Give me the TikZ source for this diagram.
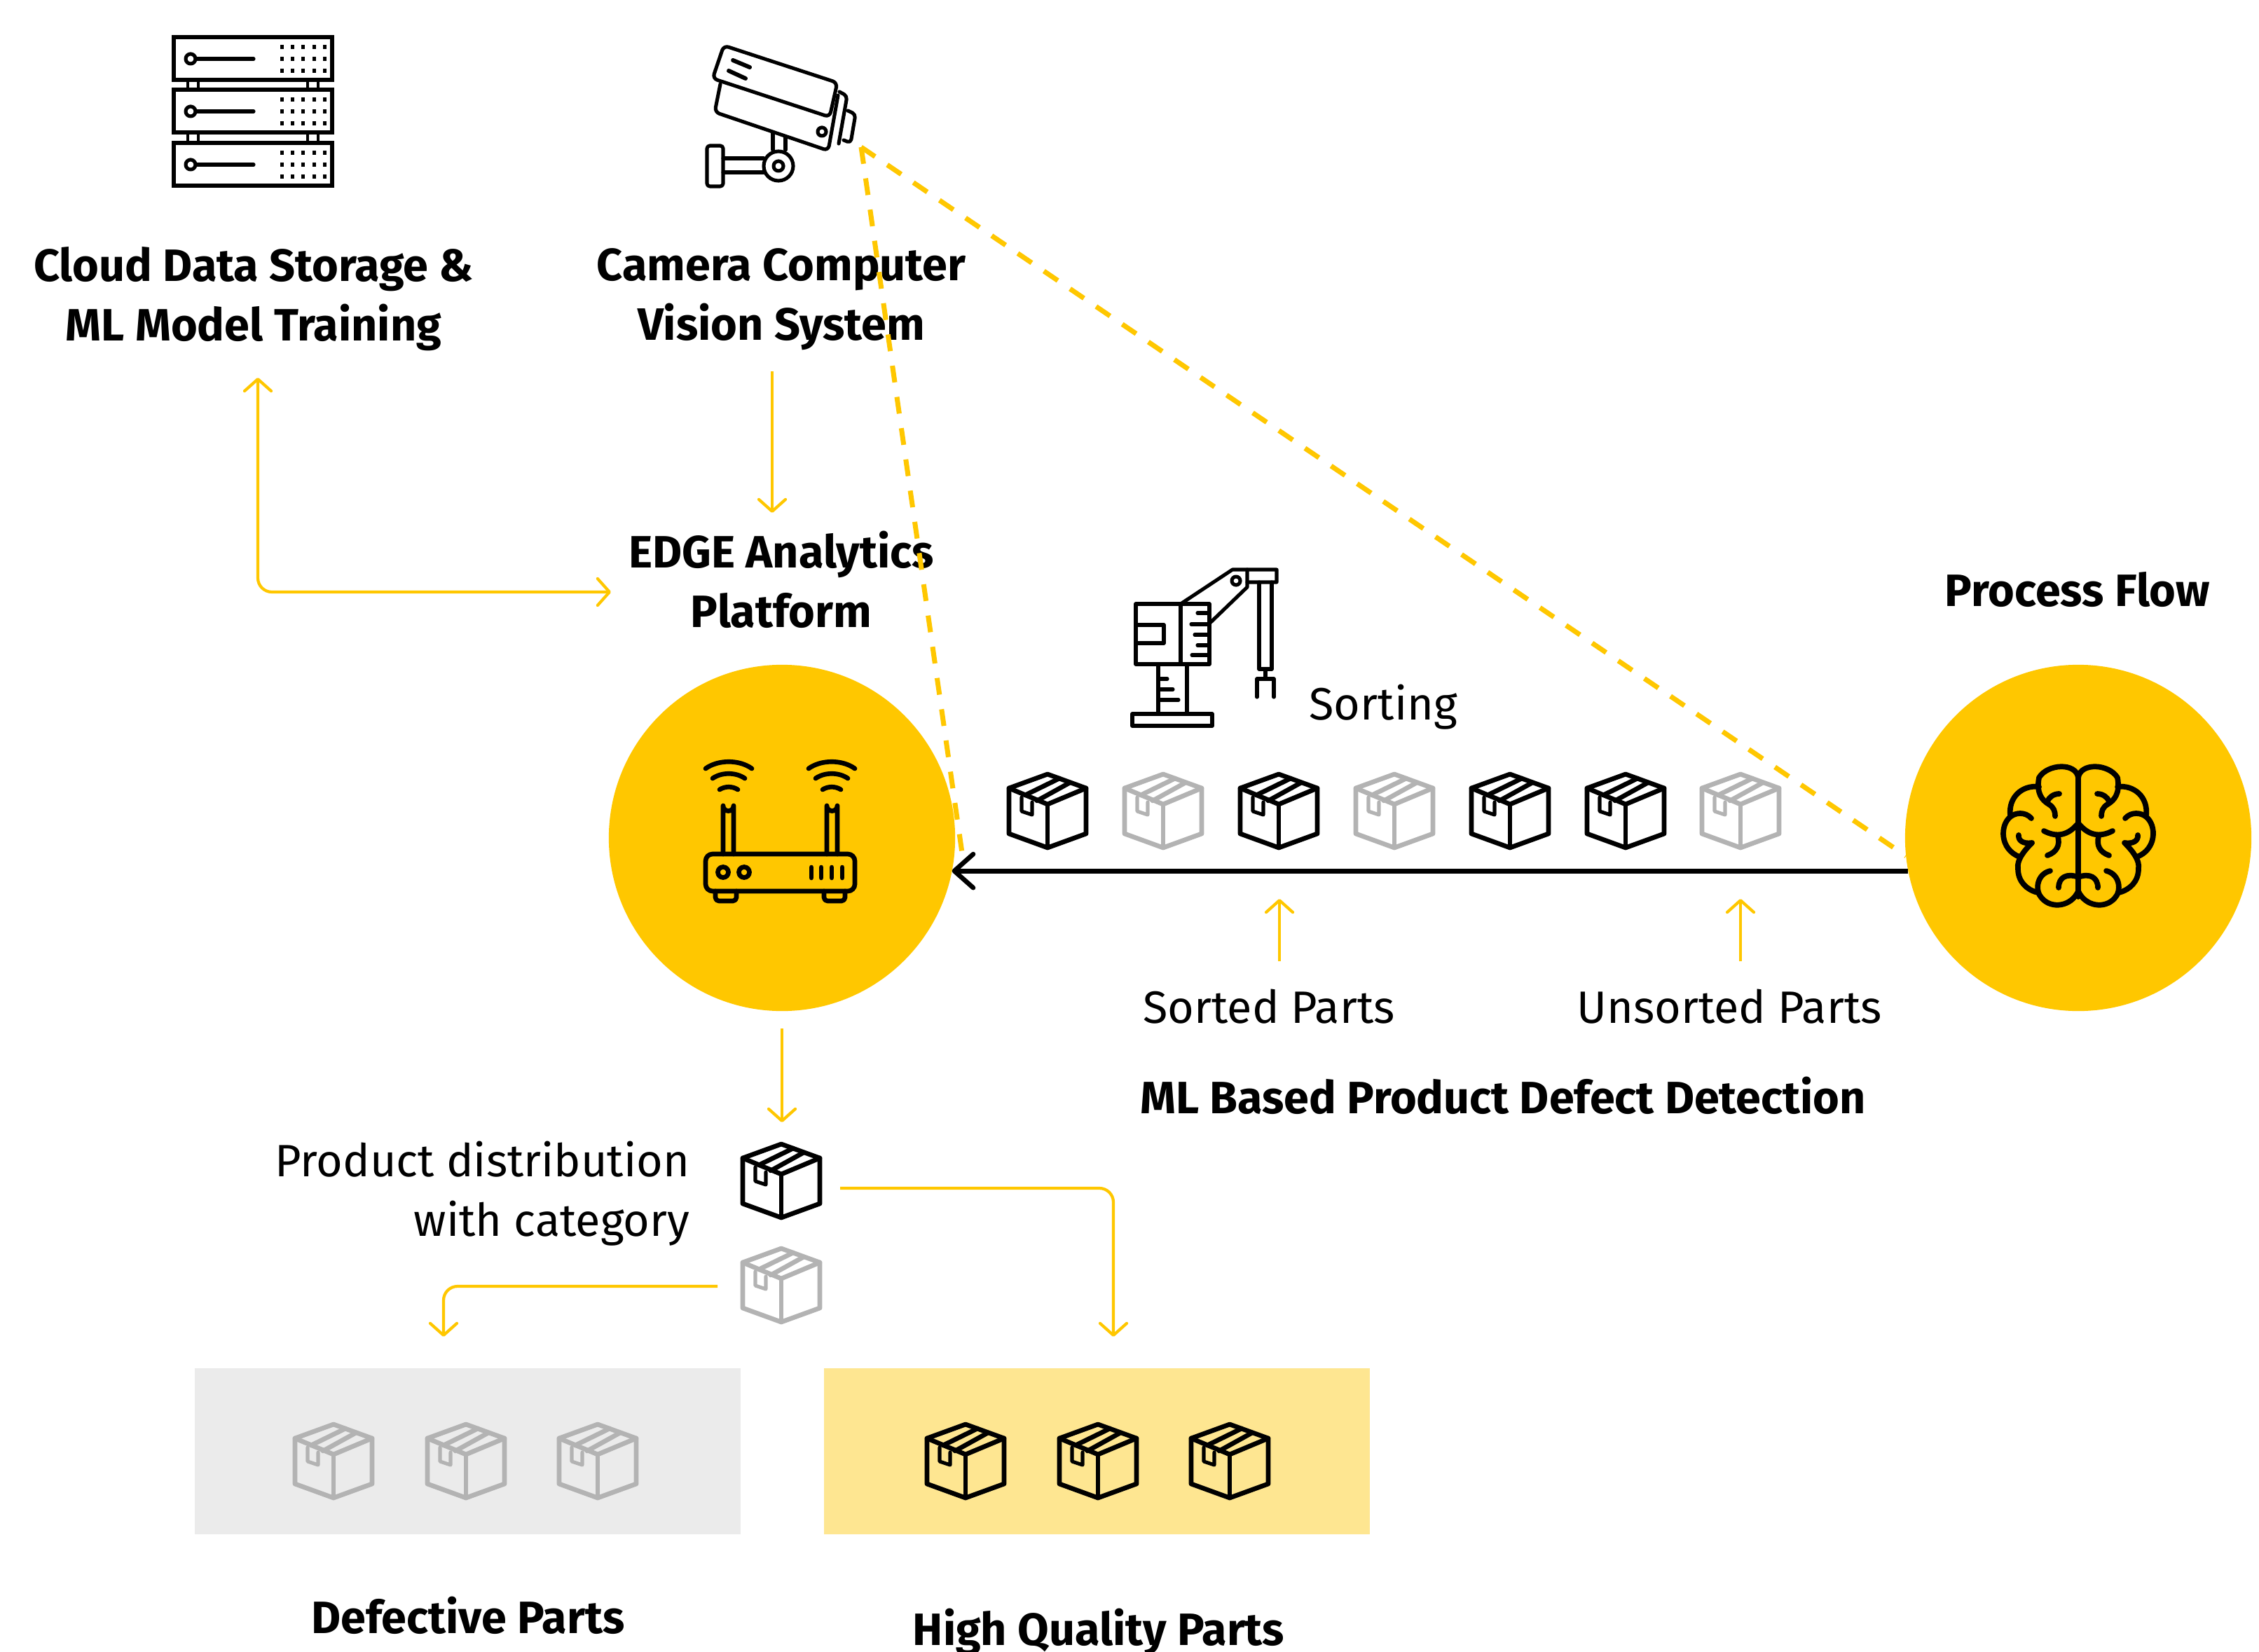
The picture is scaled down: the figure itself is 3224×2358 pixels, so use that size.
\documentclass[tikz,border=0pt]{standalone}
\usepackage{fontspec}
\setmainfont{Fira Sans}
\usetikzlibrary{arrows.meta, positioning}
\definecolor{hubyellow}{HTML}{FFC700}
\definecolor{partgray}{HTML}{B3B3B3}
\definecolor{binwhite}{HTML}{EBEBEB}
\definecolor{binyellow}{HTML}{FEE691}
\tikzset{
  heading/.style={font=\fontsize{18.4}{24.1}\selectfont\bfseries, align=center, inner sep=0pt},
  caption/.style={font=\fontsize{18.4}{24.1}\selectfont, inner sep=0pt},
  flowtip/.tip={Straight Barb[length=0.17cm, width=0.38cm, round]},
  flowarrow/.style={draw=hubyellow, line width=1.2pt, rounded corners=0.2cm, -flowtip},
  sightline/.style={draw=hubyellow, line width=2pt, dash pattern=on 0.24cm off 0.21cm},
  hub/.style={circle, fill=hubyellow, minimum size=4.94cm, inner sep=0pt, outer sep=0pt},
  icon/.style={line width=1.45pt, line cap=round, line join=round},
  thickicon/.style={line width=1.9pt, line cap=round, line join=round},
  brainline/.style={line width=2.2pt, line cap=round, line join=round},
  pics/partbox/.style={code={
    \draw[pic actions, thickicon] (0,-52) -- (55,-32) -- (55,33) -- (0,53) -- (-55,33) -- (-55,-32) -- cycle;
    \draw[pic actions, thickicon] (-55,-32) -- (0,-9) -- (55,-32);
    \draw[pic actions, thickicon] (0,-9) -- (0,53);
    \draw[pic actions, thickicon] (-32,-22) -- (17,-46);
    \draw[pic actions, thickicon] (-15,-14) -- (32,-40);
    \draw[pic actions, icon] (-37,-19) -- (-37,1) -- (-22,6) -- (-22,-12);
  }},
  pics/serverunit/.style={code={
    \draw[icon, line cap=butt, line join=miter] (248,0) rectangle (474,61);
    \draw[icon] (272,31) circle (7);
    \draw[icon] (279,31) -- (362,31);
    \foreach \dotx in {402,417,432,448,463}
      \foreach \doty in {14,31,48}
        \fill (\dotx-2.5,\doty-3) rectangle (\dotx+2.5,\doty+3);
  }},
  pics/brainhalf/.style={code={
    \draw[brainline] (0,50) .. controls (-3,28) and (-44,30) .. (-56,50) .. controls (-60,72) and (-52,82) .. (-42,88) .. controls (-35,92) and (-33,98) .. (-33,105);
    \draw[brainline] (-27,73) .. controls (-35,73) and (-42,78) .. (-44,84);
    \draw[brainline] (-56,63) .. controls (-80,60) and (-100,78) .. (-97,104);
    \draw[brainline] (-67,108) .. controls (-76,98) and (-90,100) .. (-97,106) .. controls (-112,118) and (-112,152) .. (-84,163);
    \draw[brainline] (-85,132) .. controls (-86,140) and (-78,145) .. (-66,143) .. controls (-78,155) and (-88,168) .. (-86,180) .. controls (-86,198) and (-74,210) .. (-58,214);
    \draw[brainline] (-40,183) .. controls (-60,188) and (-62,212) .. (-52,222) .. controls (-38,238) and (-10,234) .. (0,212);
    \draw[brainline] (-28,207) .. controls (-28,192) and (-16,186) .. (0,192);
    \draw[brainline] (-49,126) .. controls (-30,136) and (-14,132) .. (0,115);
    \draw[brainline] (-29,134) .. controls (-26,146) and (-30,156) .. (-44,161);
  }},
}

\begin{document}
\begin{tikzpicture}[x=0.01cm, y=-0.01cm]
  \useasboundingbox (0,0) rectangle (3224,2358);

  % Labels
  \node[heading] (cloudLabel) at (362,427) {Cloud Data Storage \&\\ML Model Training};
  \node[heading] (cameraLabel) at (1115,427) {Camera Computer\\Vision System};
  \node[heading] (edgeLabel) at (1115,827) {EDGE Analytics\\Platform};
  \node[heading] (flowLabel) at (2965,841) {Process Flow};
  \node[heading] (detectLabel) at (2145,1564) {ML Based Product Defect Detection};
  \node[heading] (defectLabel) at (668,2306) {Defective Parts};
  \node[heading] (qualityLabel) at (1568,2329) {High Quality Parts};
  \node[caption, anchor=west] (sortLabel) at (1868,1009) {Sorting};
  \node[caption] (sortedLabel) at (1811,1437) {Sorted Parts};
  \node[caption] (unsortedLabel) at (2468,1437) {Unsorted Parts};
  \node[caption, align=right, anchor=east] (distLabel) at (985,1704) {Product distribution\\with category};

  % Hubs
  \node[hub] (edgeHub) at (1116,1196) {};
  \node[hub] (flowHub) at (2966,1196) {};

  % Bins
  \fill[binwhite] (278,1953) rectangle (1057,2190);
  \fill[binyellow] (1176,1953) rectangle (1955,2190);

  % Connector ends
  \coordinate (lensPoint) at (1229,210);
  \coordinate (edgeSight) at (1374,1224);
  \coordinate (cameraOut) at (1102,530);
  \coordinate (edgeIn) at (1102,732);
  \coordinate (cloudOut) at (368,539);
  \coordinate (edgeSide) at (872,845);
  \coordinate (edgeOut) at (1116,1468);
  \coordinate (parkIn) at (1116,1602);
  \coordinate (sortedTail) at (1826,1372);
  \coordinate (sortedTip) at (1826,1283);
  \coordinate (unsortedTail) at (2484,1372);
  \coordinate (unsortedTip) at (2484,1283);
  \coordinate (goodOut) at (1199,1696);
  \coordinate (goodIn) at (1589,1908);
  \coordinate (badOut) at (1024,1836);
  \coordinate (badIn) at (633,1908);

  % Sight lines
  \draw[sightline] (lensPoint) -- (flowHub.186.2);
  \draw[sightline] (lensPoint) -- (edgeSight);

  % Flow arrows
  \draw[flowarrow] (cameraOut) -- (edgeIn);
  \draw[flowarrow, flowtip-flowtip] (cloudOut) |- (edgeSide);
  \draw[flowarrow] (edgeOut) -- (parkIn);
  \draw[flowarrow] (sortedTail) -- (sortedTip);
  \draw[flowarrow] (unsortedTail) -- (unsortedTip);
  \draw[flowarrow] (goodOut) -| (goodIn);
  \draw[flowarrow] (badOut) -| (badIn);
  \draw[line width=1.9pt, -{Straight Barb[length=0.27cm, width=0.48cm, round]}] (flowHub.191.7) -- (edgeHub.-11.7);

  % Parts on the belt
  \pic (belta) at (1495,1157) {partbox};
  \pic[draw=partgray] (beltb) at (1660,1157) {partbox};
  \pic (beltc) at (1825,1157) {partbox};
  \pic[draw=partgray] (beltd) at (1990,1157) {partbox};
  \pic (belte) at (2155,1157) {partbox};
  \pic (beltf) at (2320,1157) {partbox};
  \pic[draw=partgray] (beltg) at (2484,1157) {partbox};

  % Parts being distributed
  \pic (splita) at (1115,1685) {partbox};
  \pic[draw=partgray] (splitb) at (1115,1834) {partbox};

  % Parts in the bins
  \pic[draw=partgray] (bada) at (476,2085) {partbox};
  \pic[draw=partgray] (badb) at (665,2085) {partbox};
  \pic[draw=partgray] (badc) at (853,2085) {partbox};
  \pic (gooda) at (1378,2085) {partbox};
  \pic (goodb) at (1567,2085) {partbox};
  \pic (goodc) at (1755,2085) {partbox};

  % Server rack
  \pic (rackc) at (0,53) {serverunit};
  \pic (rackb) at (0,128) {serverunit};
  \pic (racka) at (0,204) {serverunit};
  \draw[icon, line width=1pt] (268,114) -- (268,128) (283,114) -- (283,128) (439,114) -- (439,128) (454,114) -- (454,128);
  \draw[icon, line width=1pt] (268,189) -- (268,204) (283,189) -- (283,204) (439,189) -- (439,204) (454,189) -- (454,204);

  % Camera
  \draw[icon, rounded corners=0.07cm] (1033,65) -- (1195,118) -- (1184,167) -- (1017,112) -- cycle;
  \draw[icon, rounded corners=0.07cm] (1028,120) -- (1020,160) -- (1182,215) -- (1196,136);
  \draw[icon, rounded corners=0.05cm] (1198,131) -- (1209,137) -- (1197,205);
  \draw[icon, rounded corners=0.05cm] (1210,158) -- (1221,163) -- (1214,204) -- (1204,200);
  \draw[icon, line width=1.7pt] (1046,86) -- (1070,96) (1040,101) -- (1064,112);
  \draw[icon] (1173,188) circle (6);
  \draw[icon] (1103,190) -- (1103,214) (1121,196) -- (1121,214);
  \draw[icon, fill=white] (1111,237) circle (21);
  \draw[icon] (1111,237) circle (7);
  \draw[icon, rounded corners=0.04cm] (1009,208) rectangle (1032,266);
  \draw[icon] (1032,226) -- (1090,226) (1032,246) -- (1090,246);

  % Router
  \draw[thickicon, rounded corners=0.1cm] (1007,1219) rectangle (1220,1272);
  \draw[thickicon, rounded corners=0.05cm] (1021,1272) -- (1021,1286) -- (1051,1286) -- (1051,1272);
  \draw[thickicon, rounded corners=0.05cm] (1176,1272) -- (1176,1286) -- (1206,1286) -- (1206,1272);
  \draw[thickicon] (1032,1245) circle (7.5);
  \draw[thickicon] (1062,1245) circle (7.5);
  \draw[thickicon] (1158,1238) -- (1158,1253) (1172,1238) -- (1172,1253) (1187,1238) -- (1187,1253) (1202,1238) -- (1202,1253);
  \draw[thickicon] (1032,1219) -- (1032,1150) arc (180:0:7.5) -- (1047,1219);
  \draw[thickicon] (1180,1219) -- (1180,1150) arc (180:0:7.5) -- (1195,1219);
  \draw[thickicon] (1007,1097) .. controls (1025,1084) and (1055,1084) .. (1073,1097);
  \draw[thickicon] (1017,1111) .. controls (1030,1102) and (1050,1102) .. (1063,1111);
  \draw[thickicon] (1027,1127) .. controls (1035,1122) and (1045,1122) .. (1053,1127);
  \draw[thickicon] (1154,1097) .. controls (1172,1084) and (1202,1084) .. (1220,1097);
  \draw[thickicon] (1164,1111) .. controls (1177,1102) and (1197,1102) .. (1210,1111);
  \draw[thickicon] (1174,1127) .. controls (1182,1122) and (1192,1122) .. (1200,1127);

  % Brain
  \draw[brainline] (2966,1110) -- (2966,1280);
  \pic (brainl) at (2966,1060) {brainhalf};
  \pic[xscale=-1] (brainr) at (2966,1060) {brainhalf};

  % Sorting crane
  \draw[icon] (1621,862) rectangle (1726,948);
  \draw[icon] (1685,862) -- (1685,948);
  \draw[icon] (1621,892) -- (1661,892) -- (1661,918) -- (1621,918);
  \draw[icon] (1724,875) -- (1709,875) (1724,891) -- (1700,891) (1724,906) -- (1705,906) (1724,921) -- (1709,921) (1724,935) -- (1701,935);
  \draw[icon] (1685,862) -- (1759,813) -- (1822,813) -- (1822,831) -- (1780,831);
  \draw[icon] (1780,813) -- (1780,838) -- (1726,890);
  \draw[icon] (1764,829) circle (6);
  \draw[icon] (1797,831) -- (1797,955) -- (1815,955) -- (1815,831);
  \draw[icon] (1806,955) -- (1806,969);
  \draw[icon] (1794,995) -- (1794,969) -- (1818,969) -- (1818,995);
  \draw[icon] (1653,948) -- (1653,1019) (1694,948) -- (1694,1019);
  \draw[icon] (1653,969) -- (1666,969) (1653,984) -- (1674,984) (1653,999) -- (1682,999);
  \draw[icon] (1616,1019) rectangle (1730,1036);
\end{tikzpicture}
\end{document}
